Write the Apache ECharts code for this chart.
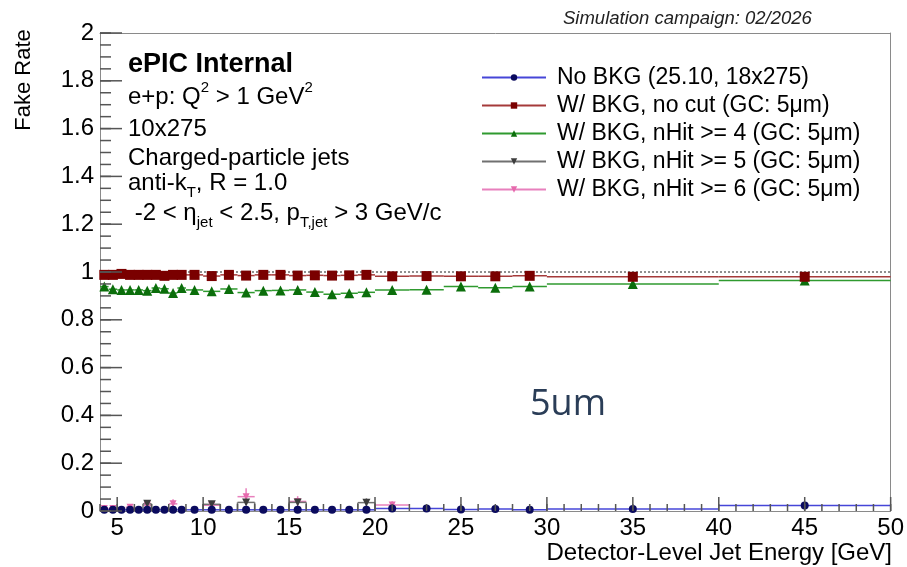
<!DOCTYPE html>
<html><head><meta charset="utf-8">
<script src="https://cdn.jsdelivr.net/npm/echarts@6/dist/echarts.min.js"></script>
<style>html,body{margin:0;padding:0;background:#fff}#c{width:907px;height:567px}</style>
</head><body><div id="c"></div>
<script>
// ---- data ----
const binEdges = [4,4.5,5,5.5,6,6.5,7,7.5,8,8.5,9,10,11,12,13,14,15,16,17,18,19,20,22,24,26,28,30,40,50];
const xTickValues = [5,10,15,20,25,30,35,40,45,50];
const xMinorTicks = [4,5,6,7,8,9,10,11,12,13,14,15,16,17,18,19,20,21,22,23,24,25,26,27,28,29,30,31,32,33,34,35,36,37,38,39,40,41,42,43,44,45,46,47,48,49,50];
const yTickValues = [0,0.2,0.4,0.6,0.8,1,1.2,1.4,1.6,1.8,2];
const yMinorTicks = [0,0.05,0.1,0.15,0.2,0.25,0.3,0.35,0.4,0.45,0.5,0.55,0.6,0.65,0.7,0.75,0.8,0.85,0.9,0.95,1,1.05,1.1,1.15,1.2,1.25,1.3,1.35,1.4,1.45,1.5,1.55,1.6,1.65,1.7,1.75,1.8,1.85,1.9,1.95,2];
const seriesNames = [
  'No BKG (25.10, 18x275)',
  'W/ BKG, no cut (GC: 5\u03bcm)',
  'W/ BKG, nHit >= 4 (GC: 5\u03bcm)',
  'W/ BKG, nHit >= 5 (GC: 5\u03bcm)',
  'W/ BKG, nHit >= 6 (GC: 5\u03bcm)'
];
const noBkg = [0.005,0.005,0.005,0.005,0.005,0.005,0.005,0.005,0.005,0.005,0.005,0.005,0.005,0.005,0.005,0.005,0.005,0.005,0.005,0.005,0.005,0.010,0.010,0.006,0.008,0.005,0.008,0.023];
const noCut = [0.988,0.988,0.992,0.988,0.988,0.988,0.988,0.984,0.988,0.988,0.988,0.983,0.988,0.985,0.988,0.988,0.985,0.986,0.985,0.986,0.988,0.982,0.983,0.982,0.982,0.984,0.980,0.980];
const nHit4 = [0.939,0.928,0.925,0.925,0.925,0.922,0.933,0.930,0.912,0.933,0.925,0.919,0.929,0.914,0.922,0.923,0.925,0.916,0.907,0.911,0.915,0.925,0.926,0.939,0.934,0.939,0.950,0.964];
const nHit5 = [null,null,null,null,null,0.030,null,null,null,null,null,0.028,null,0.036,null,null,0.036,null,null,null,0.035,null,null,null,null,null,null,null];
const nHit5Err = [0,0,0,0,0,0.012,0,0,0,0,0,0.010,0,0.010,0,0,0.010,0,0,0,0.018,0,0,0,0,0,0,0];
const nHit6 = [0.010,0.010,null,0.016,null,0.024,null,null,0.030,null,null,0.024,null,0.060,null,null,0.040,null,null,null,null,0.025,null,null,null,null,null,null];
const nHit6Err = [0.004,0.004,0,0.006,0,0.010,0,0,0.019,0,0,0.012,0,0.035,0,0,0.022,0,0,0,0,0.016,0,0,0,0,0,0];

// ---- chart ----
const chart = echarts.init(document.getElementById('c'), null, {renderer:'canvas'});
const FONT = 'Liberation Sans';
const axisGray = '#8a8a8a';
const tickColor = '#555555';
const xMin = binEdges[0], xMax = binEdges[binEdges.length - 1];
const yMin = yTickValues[0], yMax = yTickValues[yTickValues.length - 1];

function barSeries(vals, errs, color, box, z) {
  const data = [];
  vals.forEach((v, i) => {
    if (v == null) return;
    data.push([binEdges[i], binEdges[i + 1], v, errs ? errs[i] : 0]);
  });
  return {
    type: 'custom', xAxisIndex: 0, yAxisIndex: 0, silent: true, z: z,
    encode: {x: [0, 1], y: 2}, data: data,
    renderItem: function (params, api) {
      const lo = api.value(0), hi = api.value(1), v = api.value(2), e = api.value(3);
      const a = api.coord([lo, v]), b = api.coord([hi, v]);
      const st = {stroke: color, lineWidth: 1.5};
      const ch = [{type: 'line', shape: {x1: a[0], y1: a[1], x2: b[0], y2: b[1]}, style: st}];
      if (e > 0) {
        const c = (lo + hi) / 2;
        const p = api.coord([c, v - e]), q = api.coord([c, v + e]);
        ch.push({type: 'line', shape: {x1: p[0], y1: p[1], x2: q[0], y2: q[1]}, style: st});
      }
      if (box) {
        const z0 = api.coord([lo, 0]), z1 = api.coord([hi, 0]);
        ch.push({type: 'line', shape: {x1: z0[0], y1: z0[1], x2: a[0], y2: a[1]}, style: st});
        ch.push({type: 'line', shape: {x1: z1[0], y1: z1[1], x2: b[0], y2: b[1]}, style: st});
      }
      return {type: 'group', children: ch};
    }
  };
}
function markerSeries(name, vals, lineColor, markColor, symbol, size, rot, z) {
  const data = [];
  vals.forEach((v, i) => { if (v != null) data.push([(binEdges[i] + binEdges[i + 1]) / 2, v]); });
  return {
    type: 'line', name: name, xAxisIndex: 0, yAxisIndex: 0, z: z,
    data: data, symbol: symbol, symbolSize: size, symbolRotate: rot || 0, showSymbol: true,
    itemStyle: {color: markColor, borderWidth: 0},
    lineStyle: {color: lineColor, width: 1.5, opacity: 0},
    emphasis: {disabled: true}, silent: true
  };
}

const cols = {
  blue: ['#4646d8', '#0b0b5e'],
  red: ['#a53a3a', '#7a0000'],
  green: ['#2f9a2f', '#0b6e0b'],
  gray: ['#707070', '#3c3c3c'],
  pink: ['#e880bd', '#e66aad']
};

const series = [
  {type: 'line', xAxisIndex: 0, yAxisIndex: 0, data: [[xMin, 1], [xMax, 1]],
   symbol: 'none', silent: true, z: 1, lineStyle: {color: '#222', width: 1, type: [2, 2]}},
  barSeries(nHit6, nHit6Err, cols.pink[0], false, 2),
  barSeries(nHit5, nHit5Err, cols.gray[0], true, 2),
  barSeries(nHit4, null, cols.green[0], false, 2),
  barSeries(noCut, null, cols.red[0], false, 2),
  barSeries(noBkg, null, cols.blue[0], false, 2),
  markerSeries(seriesNames[4], nHit6, cols.pink[0], cols.pink[1], 'triangle', 7, 180, 3),
  markerSeries(seriesNames[3], nHit5, cols.gray[0], cols.gray[1], 'triangle', 8, 180, 3),
  markerSeries(seriesNames[2], nHit4, cols.green[0], cols.green[1], 'triangle', 10, 0, 3),
  markerSeries(seriesNames[1], noCut, cols.red[0], cols.red[1], 'rect', 10, 0, 3),
  markerSeries(seriesNames[0], noBkg, cols.blue[0], cols.blue[1], 'circle', 8, 0, 4)
];

const txt = (text, x, y, extra, rot) => ({type: 'text', x: x, y: y, rotation: rot || 0, silent: true,
  style: Object.assign({text: text, fill: '#000', font: '24px "' + FONT + '"', textVerticalAlign: 'middle'}, extra || {})});
const richSS = {
  sup: {fontSize: 15, fontFamily: FONT, verticalAlign: 'top', lineHeight: 15},
  sub: {fontSize: 15, fontFamily: FONT, verticalAlign: 'bottom', lineHeight: 15}
};
function richTxt(text, x, y) {
  return {type: 'text', x: x, y: y, silent: true,
    style: {text: text, fill: '#000', fontSize: 24, fontFamily: FONT, lineHeight: 34,
            textVerticalAlign: 'middle', rich: richSS}};
}
chart.setOption({
  animation: false,
  backgroundColor: '#fff',
  grid: {left: 100, right: 15, top: 33, bottom: 56, show: false},
  xAxis: [
    {type: 'value', min: xMin, max: xMax, position: 'bottom',
     axisLine: {show: true, onZero: false, lineStyle: {color: axisGray}},
     axisTick: {show: false},
     axisLabel: {show: true, customValues: xTickValues, color: '#000', fontSize: 24, fontFamily: FONT, margin: 5},
     splitLine: {show: false}},
    {type: 'value', min: xMin, max: xMax, position: 'top',
     axisLine: {show: true, onZero: false, lineStyle: {color: axisGray}}, axisTick: {show: false},
     axisLabel: {show: false}, splitLine: {show: false}}
  ],
  yAxis: [
    {type: 'value', min: yMin, max: yMax, interval: 0.2, position: 'left',
     axisLine: {show: true, onZero: false, lineStyle: {color: axisGray}},
     axisTick: {show: false},
     axisLabel: {show: true, color: '#000', fontSize: 24, fontFamily: FONT, margin: 6},
     splitLine: {show: false}},
    {type: 'value', min: yMin, max: yMax, position: 'right',
     axisLine: {show: true, onZero: false, lineStyle: {color: axisGray}}, axisTick: {show: false},
     axisLabel: {show: false}, splitLine: {show: false}}
  ],
  legend: {
    orient: 'vertical', left: 476, top: 61, itemWidth: 64, itemHeight: 8, itemGap: 5,
    data: seriesNames, selectedMode: false,
    textStyle: {fontSize: 23, fontFamily: FONT, color: '#000', padding: [0, 0, 0, 6]},
    lineStyle: {opacity: 1}
  },
  series: series
});

// inward axis ticks, placed through the axes' own scales
const ticks = [];
function addTicks(values, isX, len) {
  values.forEach(v => {
    if (isX) {
      const px = chart.convertToPixel({xAxisIndex: 0}, v);
      const py = chart.convertToPixel({yAxisIndex: 0}, yMin);
      ticks.push({type: 'line', silent: true, z: 50, shape: {x1: px, y1: py, x2: px, y2: py - len},
                  style: {stroke: tickColor, lineWidth: 1.5}});
    } else {
      const px = chart.convertToPixel({xAxisIndex: 0}, xMin);
      const py = chart.convertToPixel({yAxisIndex: 0}, v);
      ticks.push({type: 'line', silent: true, z: 50, shape: {x1: px, y1: py, x2: px + len, y2: py},
                  style: {stroke: tickColor, lineWidth: 1.5}});
    }
  });
}
addTicks(xTickValues, true, 14);
addTicks(xMinorTicks, true, 7);
addTicks(yTickValues, false, 22);
addTicks(yMinorTicks, false, 11);

chart.setOption({
  graphic: [
    txt('Simulation campaign: 02/2026', 563, 19, {font: 'italic 18.5px "' + FONT + '"', fill: '#222'}),
    txt('Fake Rate', 24, 80, {font: '22px "' + FONT + '"', textAlign: 'center'}, Math.PI / 2),
    txt('Detector-Level Jet Energy [GeV]', 892, 553, {font: '24px "' + FONT + '"', textAlign: 'right'}),
    txt('ePIC Internal', 128, 65, {font: 'bold 27px "' + FONT + '"'}),
    richTxt('e+p: Q{sup|2} > 1 GeV{sup|2}', 128, 97),
    txt('10x275', 128, 129),
    txt('Charged-particle jets', 128, 158),
    richTxt('anti-k{sub|T}, R = 1.0', 128, 183),
    richTxt(' -2 < \u03b7{sub|jet} < 2.5, p{sub|T,jet} > 3 GeV/c', 128, 213),
    txt('5um', 530, 405, {font: '36px "Open Sans"', fill: '#2a3d57'})
  ].concat(ticks)
});
</script>
</body></html>
